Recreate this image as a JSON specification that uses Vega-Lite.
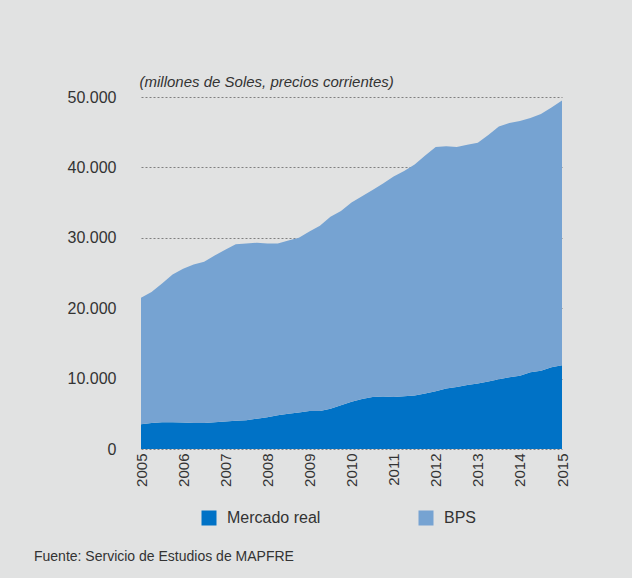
{
  "$schema": "https://vega.github.io/schema/vega-lite/v6.json",
  "width": 421,
  "height": 352,
  "autosize": {"type": "none"},
  "padding": {"left": 141, "top": 97, "right": 70, "bottom": 129},
  "background": "#E1E2E2",
  "title": {
    "text": "Fuente: Servicio de Estudios de MAPFRE",
    "orient": "bottom",
    "anchor": "start",
    "frame": "group",
    "dx": -107,
    "offset": 24,
    "font": "Liberation Sans",
    "fontSize": 14,
    "fontWeight": "normal",
    "color": "#333333"
  },
  "data": {
    "values": [
      {"t": 2005.00, "serie": "Mercado real", "valor": 3500}, {"t": 2005.00, "serie": "BPS", "valor": 18000},
      {"t": 2005.25, "serie": "Mercado real", "valor": 3700}, {"t": 2005.25, "serie": "BPS", "valor": 18600},
      {"t": 2005.50, "serie": "Mercado real", "valor": 3800}, {"t": 2005.50, "serie": "BPS", "valor": 19700},
      {"t": 2005.75, "serie": "Mercado real", "valor": 3800}, {"t": 2005.75, "serie": "BPS", "valor": 21000},
      {"t": 2006.00, "serie": "Mercado real", "valor": 3750}, {"t": 2006.00, "serie": "BPS", "valor": 21850},
      {"t": 2006.25, "serie": "Mercado real", "valor": 3700}, {"t": 2006.25, "serie": "BPS", "valor": 22500},
      {"t": 2006.50, "serie": "Mercado real", "valor": 3700}, {"t": 2006.50, "serie": "BPS", "valor": 22900},
      {"t": 2006.75, "serie": "Mercado real", "valor": 3800}, {"t": 2006.75, "serie": "BPS", "valor": 23700},
      {"t": 2007.00, "serie": "Mercado real", "valor": 3900}, {"t": 2007.00, "serie": "BPS", "valor": 24400},
      {"t": 2007.25, "serie": "Mercado real", "valor": 4000}, {"t": 2007.25, "serie": "BPS", "valor": 25100},
      {"t": 2007.50, "serie": "Mercado real", "valor": 4100}, {"t": 2007.50, "serie": "BPS", "valor": 25100},
      {"t": 2007.75, "serie": "Mercado real", "valor": 4300}, {"t": 2007.75, "serie": "BPS", "valor": 25000},
      {"t": 2008.00, "serie": "Mercado real", "valor": 4500}, {"t": 2008.00, "serie": "BPS", "valor": 24700},
      {"t": 2008.25, "serie": "Mercado real", "valor": 4800}, {"t": 2008.25, "serie": "BPS", "valor": 24400},
      {"t": 2008.50, "serie": "Mercado real", "valor": 5000}, {"t": 2008.50, "serie": "BPS", "valor": 24600},
      {"t": 2008.75, "serie": "Mercado real", "valor": 5200}, {"t": 2008.75, "serie": "BPS", "valor": 24800},
      {"t": 2009.00, "serie": "Mercado real", "valor": 5400}, {"t": 2009.00, "serie": "BPS", "valor": 25500},
      {"t": 2009.25, "serie": "Mercado real", "valor": 5400}, {"t": 2009.25, "serie": "BPS", "valor": 26300},
      {"t": 2009.50, "serie": "Mercado real", "valor": 5700}, {"t": 2009.50, "serie": "BPS", "valor": 27300},
      {"t": 2009.75, "serie": "Mercado real", "valor": 6200}, {"t": 2009.75, "serie": "BPS", "valor": 27600},
      {"t": 2010.00, "serie": "Mercado real", "valor": 6700}, {"t": 2010.00, "serie": "BPS", "valor": 28300},
      {"t": 2010.25, "serie": "Mercado real", "valor": 7100}, {"t": 2010.25, "serie": "BPS", "valor": 28800},
      {"t": 2010.50, "serie": "Mercado real", "valor": 7400}, {"t": 2010.50, "serie": "BPS", "valor": 29400},
      {"t": 2010.75, "serie": "Mercado real", "valor": 7450}, {"t": 2010.75, "serie": "BPS", "valor": 30250},
      {"t": 2011.00, "serie": "Mercado real", "valor": 7400}, {"t": 2011.00, "serie": "BPS", "valor": 31300},
      {"t": 2011.25, "serie": "Mercado real", "valor": 7500}, {"t": 2011.25, "serie": "BPS", "valor": 32000},
      {"t": 2011.50, "serie": "Mercado real", "valor": 7600}, {"t": 2011.50, "serie": "BPS", "valor": 32800},
      {"t": 2011.75, "serie": "Mercado real", "valor": 7900}, {"t": 2011.75, "serie": "BPS", "valor": 33800},
      {"t": 2012.00, "serie": "Mercado real", "valor": 8200}, {"t": 2012.00, "serie": "BPS", "valor": 34700},
      {"t": 2012.25, "serie": "Mercado real", "valor": 8600}, {"t": 2012.25, "serie": "BPS", "valor": 34400},
      {"t": 2012.50, "serie": "Mercado real", "valor": 8800}, {"t": 2012.50, "serie": "BPS", "valor": 34100},
      {"t": 2012.75, "serie": "Mercado real", "valor": 9100}, {"t": 2012.75, "serie": "BPS", "valor": 34100},
      {"t": 2013.00, "serie": "Mercado real", "valor": 9300}, {"t": 2013.00, "serie": "BPS", "valor": 34200},
      {"t": 2013.25, "serie": "Mercado real", "valor": 9600}, {"t": 2013.25, "serie": "BPS", "valor": 35000},
      {"t": 2013.50, "serie": "Mercado real", "valor": 9900}, {"t": 2013.50, "serie": "BPS", "valor": 35900},
      {"t": 2013.75, "serie": "Mercado real", "valor": 10200}, {"t": 2013.75, "serie": "BPS", "valor": 36100},
      {"t": 2014.00, "serie": "Mercado real", "valor": 10400}, {"t": 2014.00, "serie": "BPS", "valor": 36200},
      {"t": 2014.25, "serie": "Mercado real", "valor": 10900}, {"t": 2014.25, "serie": "BPS", "valor": 36100},
      {"t": 2014.50, "serie": "Mercado real", "valor": 11100}, {"t": 2014.50, "serie": "BPS", "valor": 36500},
      {"t": 2014.75, "serie": "Mercado real", "valor": 11600}, {"t": 2014.75, "serie": "BPS", "valor": 36900},
      {"t": 2015.00, "serie": "Mercado real", "valor": 11900}, {"t": 2015.00, "serie": "BPS", "valor": 37600}
    ]
  },
  "mark": {"type": "area", "interpolate": "linear"},
  "encoding": {
    "x": {
      "field": "t",
      "type": "quantitative",
      "scale": {"domain": [2005, 2015], "nice": false, "zero": false},
      "axis": {
        "title": null,
        "values": [2005, 2006, 2007, 2008, 2009, 2010, 2011, 2012, 2013, 2014, 2015],
        "format": "d",
        "labelAngle": -90,
        "labelAlign": "right",
        "labelBaseline": "middle",
        "labelPadding": 4,
        "labelFont": "Liberation Sans",
        "labelFontSize": 15,
        "labelColor": "#333333",
        "domain": false,
        "ticks": false,
        "grid": false
      }
    },
    "y": {
      "field": "valor",
      "type": "quantitative",
      "stack": "zero",
      "scale": {"domain": [0, 50000], "nice": false},
      "axis": {
        "title": "(millones de Soles, precios corrientes)",
        "titleAngle": 0,
        "titleAlign": "left",
        "titleBaseline": "alphabetic",
        "titleX": -2,
        "titleY": -11,
        "titleFont": "Liberation Sans",
        "titleFontStyle": "italic",
        "titleFontWeight": "normal",
        "titleFontSize": 15,
        "titleColor": "#333333",
        "values": [0, 10000, 20000, 30000, 40000, 50000],
        "labelExpr": "datum.value == 0 ? '0' : replace(format(datum.value, ','), ',', '.')",
        "labelPadding": 25,
        "labelFont": "Liberation Sans",
        "labelFontSize": 16,
        "labelColor": "#333333",
        "domain": false,
        "ticks": false,
        "grid": true,
        "gridColor": "#808080",
        "gridDash": [2, 2],
        "gridWidth": 1
      }
    },
    "color": {
      "field": "serie",
      "type": "nominal",
      "scale": {"domain": ["Mercado real", "BPS"], "range": ["#0072C6", "#76A3D2"]},
      "legend": {
        "title": null,
        "orient": "none",
        "legendX": 60,
        "legendY": 413,
        "direction": "horizontal",
        "symbolType": "square",
        "symbolSize": 225,
        "symbolStrokeWidth": 0,
        "symbolOpacity": 1,
        "labelOffset": 10,
        "columnPadding": 97,
        "labelFont": "Liberation Sans",
        "labelFontSize": 16,
        "labelColor": "#333333"
      }
    },
    "order": {"field": "serie", "sort": "descending"}
  },
  "config": {
    "view": {"stroke": null},
    "area": {"opacity": 1}
  }
}
